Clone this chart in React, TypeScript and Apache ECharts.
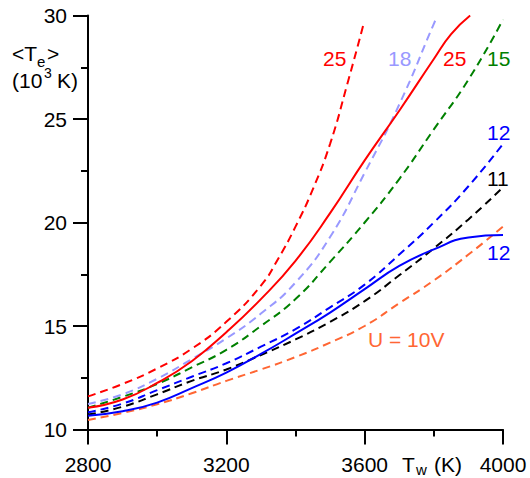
import React, { useEffect, useRef } from "react";
import * as echarts from "echarts";

const TW = [2800, 2900, 3000, 3100, 3200, 3300, 3400, 3500, 3600, 3700, 3800, 3900, 4000];

const red25DashX = [2800, 2900, 3000, 3100, 3200, 3300, 3350, 3400, 3450, 3500, 3550, 3597];
const red25DashY = [11.6, 12.2, 12.95, 13.9, 15.2, 16.95, 18.25, 19.8, 21.6, 23.8, 26.7, 29.6];

const red25SolidX = [2800, 2900, 3000, 3100, 3200, 3300, 3400, 3500, 3600, 3700, 3800, 3850, 3905];
const red25SolidY = [11.05, 11.45, 12.25, 13.3, 14.7, 16.3, 18.15, 20.45, 23.0, 25.4, 27.9, 29.1, 30.0];

const blue18DashX = [2800, 2900, 3000, 3100, 3200, 3300, 3400, 3500, 3600, 3700, 3800, 3808];
const blue18DashY = [11.23, 11.7, 12.45, 13.4, 14.4, 15.6, 17.1, 19.3, 22.4, 25.7, 29.6, 29.9];

const green15Dash = [11.05, 11.58, 12.2, 13.0, 13.85, 15.0, 16.3, 18.1, 20.0, 22.1, 24.5, 26.9, 29.8];
const blue12Dash = [10.83, 11.25, 11.9, 12.55, 13.2, 14.0, 14.85, 15.9, 17.0, 18.45, 20.0, 21.75, 23.8];
const black11Dash = [10.72, 11.1, 11.7, 12.35, 12.9, 13.6, 14.35, 15.2, 16.2, 17.45, 18.75, 20.15, 21.7];
const blue12Solid = [10.67, 10.88, 11.3, 12.0, 12.75, 13.65, 14.63, 15.65, 16.78, 17.9, 18.7, 19.28, 19.4];
const orange10Dash = [10.46, 10.8, 11.22, 11.75, 12.35, 12.9, 13.5, 14.2, 15.0, 16.1, 17.2, 18.45, 19.8];

const X_TICKS = { min: 2800, max: 4000, interval: 400 };
const Y_TICKS = { min: 10, max: 30, interval: 5 };

const FONT = "'Liberation Sans', Arial, Helvetica, sans-serif";

const pair = (xs: number[], ys: number[]) => ys.map((y, i) => [xs[i], y]);

const C = {
  red: "#ff0000",
  lightBlue: "#9999ff",
  green: "#008000",
  blue: "#0000ff",
  black: "#000000",
  orange: "#ff6633",
};

function line(name: string, data: number[][], color: string, dashed: boolean, z: number) {
  return {
    name,
    type: "line",
    data,
    symbol: "none",
    smooth: 0.5,
    z,
    lineStyle: { color, width: 2, type: dashed ? [8, 5] : "solid" },
  };
}

function txt(text: string, x: number, y: number, color: string, size = 21) {
  return {
    type: "text",
    x,
    y,
    style: { text, fill: color, fontSize: size, fontFamily: FONT, align: "left", verticalAlign: "middle" },
  };
}

export default function App() {
  const ref = useRef<HTMLDivElement>(null);
  useEffect(() => {
    const chart = echarts.init(ref.current!, null, { renderer: "svg" });
    const axisCommon = {
      type: "value",
      axisLine: { show: true, lineStyle: { color: "#000", width: 2 } },
      axisTick: { show: true, length: 15, inside: false, lineStyle: { color: "#000", width: 2 } },
      minorTick: { show: true, splitNumber: 2, length: 7, lineStyle: { color: "#000", width: 2 } },
      splitLine: { show: false },
      minorSplitLine: { show: false },
    };
    chart.setOption({
      animation: false,
      backgroundColor: "#fff",
      grid: { left: 88, top: 15.5, right: 27, bottom: 48.5, containLabel: false },
      xAxis: {
        ...axisCommon,
        ...X_TICKS,
        axisLabel: { fontSize: 21, fontFamily: FONT, color: "#000", margin: 24, formatter: (v: number) => String(v) },
      },
      yAxis: {
        ...axisCommon,
        ...Y_TICKS,
        axisLabel: { fontSize: 21, fontFamily: FONT, color: "#000", margin: 21, formatter: (v: number) => String(v) },
      },
      series: [
        line("U=10V", pair(TW, orange10Dash), C.orange, true, 2),
        line("11", pair(TW, black11Dash), C.black, true, 3),
        line("12 solid", pair(TW, blue12Solid), C.blue, false, 4),
        line("12 dashed", pair(TW, blue12Dash), C.blue, true, 3),
        line("15", pair(TW, green15Dash), C.green, true, 3),
        line("18", pair(blue18DashX, blue18DashY), C.lightBlue, true, 3),
        line("25 solid", pair(red25SolidX, red25SolidY), C.red, false, 4),
        line("25 dashed", pair(red25DashX, red25DashY), C.red, true, 3),
      ],
      graphic: [
        txt("<T", 12, 53, "#000"),
        txt("e", 37, 61, "#000", 15),
        txt(">", 47, 53, "#000"),
        txt("(10", 12, 80, "#000"),
        txt("3", 44, 73, "#000", 14),
        txt("K)", 57, 80, "#000"),
        txt("T", 402, 464, "#000"),
        txt("w", 416, 469, "#000", 15),
        txt("(K)", 434, 464, "#000"),
        txt("25", 323, 58, C.red),
        txt("18", 388, 58, C.lightBlue),
        txt("25", 443, 58, C.red),
        txt("15", 487, 58, C.green),
        txt("12", 487, 132, C.blue),
        txt("11", 487, 178, C.black),
        txt("12", 487, 252, C.blue),
        txt("U = 10V", 368, 339, C.orange),
      ],
    });
    return () => chart.dispose();
  }, []);
  return <div ref={ref} style={{ position: "fixed", left: 0, top: 0, width: 530, height: 478 }} />;
}
